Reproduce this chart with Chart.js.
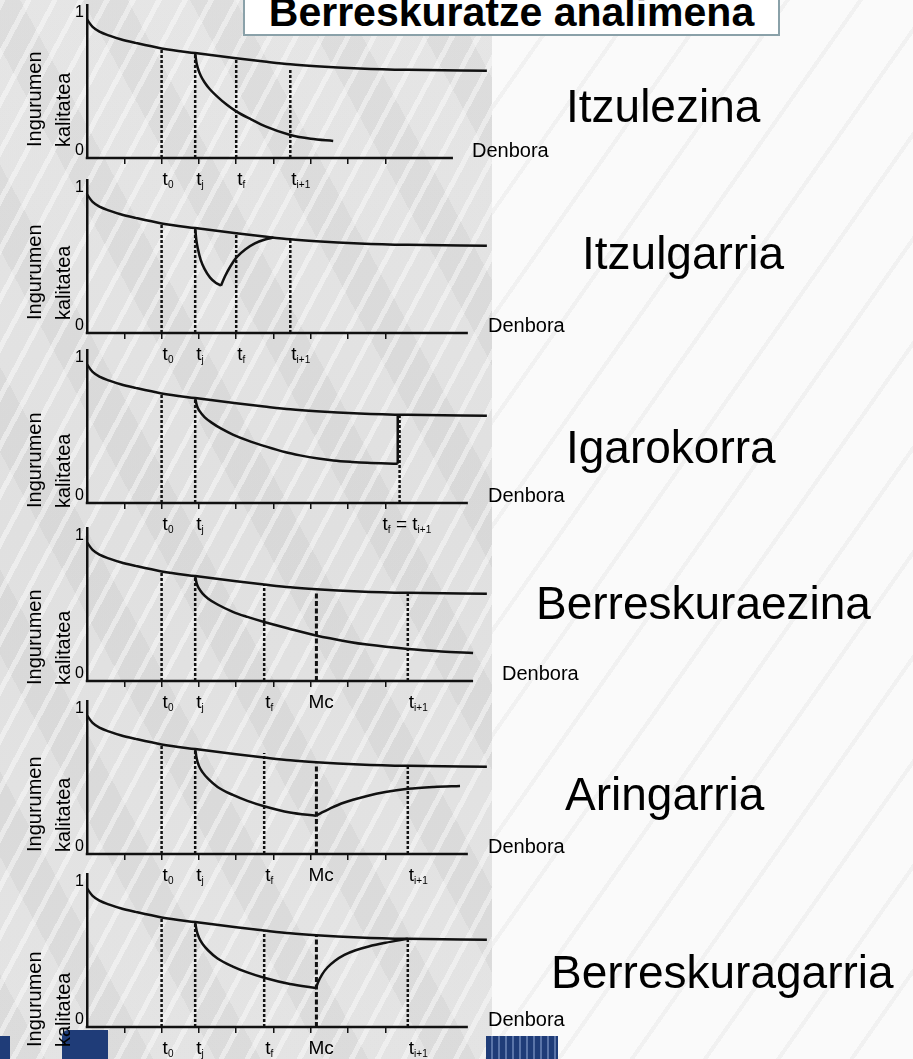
<!DOCTYPE html>
<html>
<head>
<meta charset="utf-8">
<script src="https://cdn.jsdelivr.net/npm/chart.js@4.4.1/dist/chart.umd.min.js"></script>
<style>
html,body{margin:0;padding:0;}
body{width:913px;height:1059px;position:relative;overflow:hidden;background:#fbfbfb;font-family:"Liberation Sans",Arial,sans-serif;}
#bgLeft{position:absolute;left:0;top:0;width:492px;height:1059px;
  background:repeating-linear-gradient(118deg, rgba(255,255,255,0.42) 0 5px, rgba(255,255,255,0) 5px 23px), repeating-linear-gradient(62deg, rgba(200,200,200,0.18) 0 40px, rgba(255,255,255,0.12) 40px 95px), linear-gradient(180deg,#e2e2e2,#dcdcdc 50%,#e0e0e0);}
#bgRight{position:absolute;left:492px;top:0;width:421px;height:1059px;
  background:repeating-linear-gradient(125deg, rgba(210,210,210,0.22) 0 4px, rgba(255,255,255,0) 4px 60px), #fafafa;}
.blue{position:absolute;background:#1f3c78;}
canvas{position:absolute;left:0;}
.lbl{position:absolute;font-size:46px;line-height:46px;color:#000;white-space:nowrap;}
#titleBox{position:absolute;left:243px;top:-30px;width:537px;height:66px;box-sizing:border-box;border:2px solid #8aa1a9;background:#fff;}
#titleText{position:absolute;left:243px;width:537px;top:-8px;text-align:center;font-weight:bold;font-size:41px;line-height:41px;color:#000;white-space:nowrap;}
</style>
</head>
<body>
<div id="bgLeft"></div>
<div id="bgRight"></div>
<div class="blue" style="left:0;top:1036px;width:10px;height:23px;"></div>
<div class="blue" style="left:62px;top:1030px;width:46px;height:29px;border-radius:6px 0 0 0;"></div>
<div class="blue" style="left:486px;top:1036px;width:72px;height:23px;background:repeating-linear-gradient(90deg,#1f3c78 0 5px,#5a74a8 5px 7px);"></div>
<div id="titleBox"></div>
<div id="titleText">Berreskuratze analimena</div>

<script>
// ---------- data (x in time units, y in environmental quality 0..1) ----------
const panelNames = ['Itzulezina','Itzulgarria','Igarokorra','Berreskuraezina','Aringarria','Berreskuragarria'];
const axisTicks = [1, 2, 3, 4, 5, 6, 7, 8];

// reference (undisturbed) quality curve, shared by all panels
const mainX = [0, 0.15, 0.35, 0.6, 0.9, 1.3, 2.0, 2.9, 4.0, 4.75, 5.45, 6.15, 7.3, 8.6, 10.72];
const mainQuality = [0.95, 0.9, 0.865, 0.84, 0.815, 0.79, 0.752, 0.72, 0.684, 0.662, 0.643, 0.63, 0.615, 0.605, 0.598];

// 1 Itzulezina
const itzulezinaX = [2.9, 2.93, 2.98, 3.05, 3.15, 3.3, 3.5, 3.75, 4.0, 4.4, 4.8, 5.45, 6.0, 6.6];
const itzulezinaY = [0.72, 0.66, 0.61, 0.565, 0.52, 0.47, 0.42, 0.365, 0.32, 0.265, 0.215, 0.158, 0.132, 0.117];
// 2 Itzulgarria
const itzulgarriaDownX = [2.9, 2.93, 2.98, 3.05, 3.15, 3.3, 3.45, 3.59];
const itzulgarriaDownY = [0.72, 0.64, 0.57, 0.5, 0.44, 0.38, 0.345, 0.325];
const itzulgarriaUpX = [3.59, 3.7, 3.85, 4.02, 4.25, 4.5, 4.75, 5.0];
const itzulgarriaUpY = [0.325, 0.39, 0.46, 0.522, 0.575, 0.615, 0.64, 0.655];
// 3 Igarokorra
const igarokorraX = [2.9, 2.95, 3.02, 3.15, 3.35, 3.6, 3.91, 4.3, 4.83, 5.3, 5.71, 6.2, 6.6, 7.1, 7.51, 8.33];
const igarokorraY = [0.72, 0.665, 0.63, 0.59, 0.55, 0.51, 0.47, 0.43, 0.385, 0.35, 0.327, 0.305, 0.292, 0.282, 0.276, 0.27];
const igarokorraJumpX = [8.33, 8.33];
const igarokorraJumpY = [0.27, 0.607];
// 4 Berreskuraezina
const berreskuraezinaX = [2.9, 2.94, 3.0, 3.1, 3.25, 3.5, 3.91, 4.3, 4.75, 5.4, 6.14, 7.0, 7.51, 8.6, 9.5, 10.35];
const berreskuraezinaY = [0.72, 0.67, 0.635, 0.6, 0.565, 0.525, 0.475, 0.44, 0.405, 0.36, 0.312, 0.27, 0.25, 0.22, 0.203, 0.192];
// 5 Aringarria
const aringarriaDownX = [2.9, 2.94, 3.0, 3.1, 3.25, 3.5, 3.91, 4.3, 4.75, 5.44, 6.14];
const aringarriaDownY = [0.72, 0.655, 0.605, 0.56, 0.515, 0.46, 0.405, 0.365, 0.328, 0.285, 0.262];
const aringarriaUpX = [6.14, 6.3, 6.5, 6.86, 7.51, 8.0, 8.6, 9.3, 10.0];
const aringarriaUpY = [0.262, 0.285, 0.31, 0.35, 0.398, 0.425, 0.447, 0.46, 0.467];
// 6 Berreskuragarria
const berreskuragarriaDownX = [2.9, 2.94, 3.0, 3.1, 3.25, 3.5, 3.91, 4.3, 4.75, 5.44, 6.14];
const berreskuragarriaDownY = [0.72, 0.66, 0.615, 0.57, 0.525, 0.47, 0.415, 0.375, 0.338, 0.295, 0.268];
const berreskuragarriaUpX = [6.14, 6.2, 6.3, 6.45, 6.65, 6.9, 7.2, 7.55, 8.0, 8.6];
const berreskuragarriaUpY = [0.268, 0.31, 0.36, 0.41, 0.455, 0.495, 0.527, 0.553, 0.578, 0.605];

// time markers: position, top of dotted line, label
const markers1X = [2.0, 2.9, 4.0, 5.45];
const markers1Top = [0.748, 0.707, 0.686, 0.604];
const markers1Labels = ['t_0', 't_j', 't_f', 't_{i+1}'];
const markers2X = [2.0, 2.9, 4.0, 5.45];
const markers2Top = [0.755, 0.707, 0.693, 0.638];
const markers2Labels = ['t_0', 't_j', 't_f', 't_{i+1}'];
const markers3X = [2.0, 2.9, 8.38];
const markers3Top = [0.745, 0.707, 0.605];
const markers3Labels = ['t_0', 't_j', 't_f = t_{i+1}'];
const markers4X = [2.0, 2.9, 4.75, 6.15, 8.6];
const markers4Top = [0.755, 0.714, 0.666, 0.604, 0.604];
const markers4Labels = ['t_0', 't_j', 't_f', 'Mc', 't_{i+1}'];
const markers5X = [2.0, 2.9, 4.75, 6.15, 8.6];
const markers5Top = [0.748, 0.707, 0.693, 0.62, 0.6];
const markers5Labels = ['t_0', 't_j', 't_f', 'Mc', 't_{i+1}'];
const markers6X = [2.0, 2.9, 4.75, 6.15, 8.6];
const markers6Top = [0.748, 0.714, 0.655, 0.625, 0.6];
const markers6Labels = ['t_0', 't_j', 't_f', 'Mc', 't_{i+1}'];

// ---------- layout ----------
const AXIS_Y = [158, 333, 503, 681, 854, 1027];
const AXIS_END = [9.81, 10.21, 10.21, 10.35, 10.21, 10.21];
const TITLE_DY = [-11, -13, 5, 4, -2, 20];
const DENBORA_X = [472, 488, 488, 502, 488, 488];
const NAME_POS = [[566,122],[582,269],[566,463],[536,619],[565,810],[551,988]];
const CW = 600, CH = 200, AXIS_IN = 160, TICK_LEN = 6;
const PLOT_L = 87, PLOT_R = 488, X_MAX = 10.75, Y_MAX = 1.05;
const FONT = '"Liberation Sans", Arial, sans-serif';
const INK = '#111';

function pts(xs, ys){ return xs.map((x,i)=>({x:x, y:ys[i]})); }

function parseLabel(str){
  const segs=[]; const re=/_(\{[^}]*\}|.)/g; let last=0, m;
  while((m=re.exec(str))){
    if(m.index>last) segs.push({text:str.slice(last,m.index),sub:false});
    let s=m[1]; if(s[0]==='{') s=s.slice(1,-1);
    segs.push({text:s,sub:true}); last=re.lastIndex;
  }
  if(last<str.length) segs.push({text:str.slice(last),sub:false});
  return segs;
}

const panels = [
  {curves:[[itzulezinaX,itzulezinaY]], solid:[], mX:markers1X, mTop:markers1Top, mLab:markers1Labels},
  {curves:[[itzulgarriaDownX,itzulgarriaDownY],[itzulgarriaUpX,itzulgarriaUpY]], solid:[], mX:markers2X, mTop:markers2Top, mLab:markers2Labels},
  {curves:[[igarokorraX,igarokorraY]], solid:[[igarokorraJumpX,igarokorraJumpY]], mX:markers3X, mTop:markers3Top, mLab:markers3Labels},
  {curves:[[berreskuraezinaX,berreskuraezinaY]], solid:[], mX:markers4X, mTop:markers4Top, mLab:markers4Labels},
  {curves:[[aringarriaDownX,aringarriaDownY],[aringarriaUpX,aringarriaUpY]], solid:[], mX:markers5X, mTop:markers5Top, mLab:markers5Labels},
  {curves:[[berreskuragarriaDownX,berreskuragarriaDownY],[berreskuragarriaUpX,berreskuragarriaUpY]], solid:[], mX:markers6X, mTop:markers6Top, mLab:markers6Labels}
];

const annot = {
  id:'annot',
  afterDraw(chart, args, o){
    const {ctx, chartArea, scales:{x, y}} = chart;
    const i = o.index, p = panels[i];
    const y0 = y.getPixelForValue(0);
    ctx.save();
    // x axis line
    ctx.strokeStyle = INK; ctx.lineWidth = 2.5; ctx.setLineDash([]);
    ctx.beginPath(); ctx.moveTo(x.getPixelForValue(0)-1.25, y0); ctx.lineTo(x.getPixelForValue(AXIS_END[i]), y0); ctx.stroke();
    ctx.fillStyle = '#000';
    // 0 / 1 labels
    ctx.font = '16px ' + FONT; ctx.textAlign = 'right'; ctx.textBaseline = 'middle';
    ctx.fillText('1', chartArea.left - 3, y.getPixelForValue(1));
    ctx.fillText('0', chartArea.left - 3, y0 - 7);
    // y title
    ctx.font = '20px ' + FONT; ctx.textAlign = 'left'; ctx.textBaseline = 'alphabetic';
    [['Ingurumen',41],['kalitatea',70]].forEach(([t,bx])=>{
      ctx.save(); ctx.translate(bx, y0 + TITLE_DY[i]); ctx.rotate(-Math.PI/2); ctx.fillText(t,0,0); ctx.restore();
    });
    // x title
    ctx.font = '20px ' + FONT;
    ctx.fillText('Denbora', DENBORA_X[i], y0 - 1);
    // marker labels
    p.mLab.forEach((lab, k)=>{
      const segs = parseLabel(lab);
      let px = x.getPixelForValue(p.mX[k]) + (lab === 'Mc' ? -8 : (lab.indexOf('=')>0 ? -17 : 1));
      const base = y0 + 27;
      segs.forEach(s=>{
        ctx.font = (s.sub ? '10px ' : '19px ') + FONT;
        ctx.fillText(s.text, px, s.sub ? base + 3 : base);
        px += ctx.measureText(s.text).width;
      });
    });
    ctx.restore();
  }
};

panels.forEach((p, i)=>{
  const cv = document.createElement('canvas');
  cv.width = CW; cv.height = CH;
  cv.style.top = (AXIS_Y[i] - AXIS_IN) + 'px';
  document.body.appendChild(cv);

  const datasets = [];
  const lineStyle = {borderColor:INK, borderWidth:2.5, pointRadius:0, fill:false, cubicInterpolationMode:'monotone'};
  datasets.push(Object.assign({data: pts(mainX, mainQuality)}, lineStyle));
  p.curves.forEach(c => datasets.push(Object.assign({data: pts(c[0], c[1])}, lineStyle)));
  p.solid.forEach(c => datasets.push({data: pts(c[0], c[1]), borderColor:INK, borderWidth:2.5, pointRadius:0, tension:0}));
  p.mX.forEach((mx, k)=>{
    const isMc = p.mLab[k] === 'Mc';
    datasets.push({data:[{x:mx,y:0},{x:mx,y:p.mTop[k]}], borderColor:INK, borderWidth: isMc ? 3 : 2.5,
      borderDash: isMc ? [5,2.5] : [3,2], borderCapStyle:'butt', pointRadius:0, tension:0});
  });

  new Chart(cv, {
    type:'line',
    data:{datasets},
    options:{
      responsive:false, animation:false, devicePixelRatio:1, events:[],
      layout:{padding:{left:PLOT_L, right:CW-PLOT_R, top:AXIS_IN-153, bottom:CH-AXIS_IN-TICK_LEN}},
      plugins:{legend:{display:false}, tooltip:{enabled:false}, annot:{index:i}},
      scales:{
        x:{type:'linear', min:0, max:X_MAX,
           afterBuildTicks:(s)=>{ s.ticks = axisTicks.map(v=>({value:v})); },
           ticks:{display:false},
           border:{display:false},
           grid:{drawOnChartArea:false, drawTicks:true, tickLength:TICK_LEN, color:INK, lineWidth:1.5}},
        y:{type:'linear', min:0, max:Y_MAX,
           ticks:{display:false},
           border:{display:true, color:INK, width:2.5},
           grid:{display:true, drawOnChartArea:false, drawTicks:false}}
      }
    },
    plugins:[annot]
  });

  const d = document.createElement('div');
  d.className = 'lbl';
  d.textContent = panelNames[i];
  d.style.left = NAME_POS[i][0] + 'px';
  d.style.top = (NAME_POS[i][1] - 39) + 'px';
  document.body.appendChild(d);
});
</script>
</body>
</html>
